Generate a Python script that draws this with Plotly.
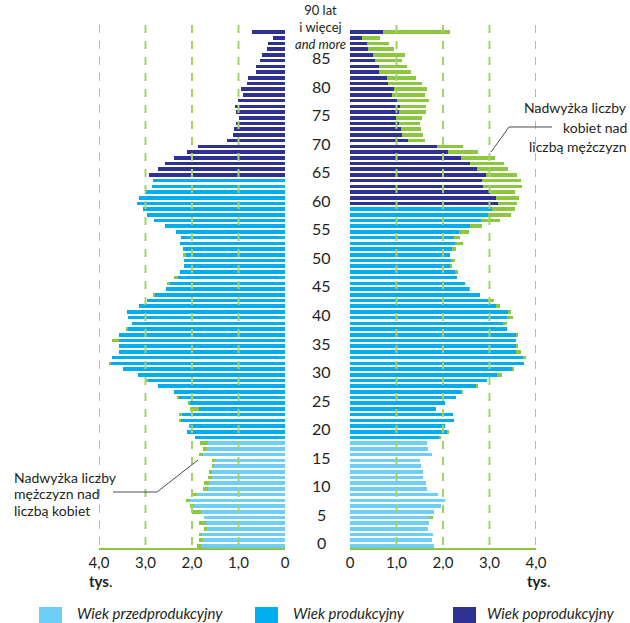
import plotly.graph_objects as go

# ---------------- data (thousands of persons) ----------------
ages = list(range(91))  # 90 = "90 lat i więcej"

men = [1.89, 1.86, 1.85, 1.74, 1.86, 1.74, 2.01, 2.04, 2.12, 1.99,
       1.76, 1.74, 1.65, 1.63, 1.56, 1.56, 1.86, 1.76, 1.82, 1.93,
       2.10, 2.06, 2.26, 2.28, 2.04, 2.09, 2.32, 2.39, 2.73, 2.97,
       3.16, 3.49, 3.79, 3.72, 3.57, 3.57, 3.72, 3.57, 3.42, 3.29,
       3.38, 3.40, 3.14, 2.97, 2.82, 2.56, 2.54, 2.39, 2.26, 2.17,
       2.17, 2.19, 2.19, 2.26, 2.24, 2.34, 2.58, 2.82, 2.97, 3.05,
       3.18, 3.14, 3.01, 2.86, 2.84, 2.93, 2.73, 2.58, 2.39, 2.11,
       1.87, 1.25, 1.12, 1.10, 1.05, 0.99, 1.05, 1.07, 1.01, 0.90,
       0.94, 0.81, 0.79, 0.62, 0.62, 0.54, 0.49, 0.39, 0.36, 0.26,
       0.71]

women = [1.81, 1.77, 1.79, 1.68, 1.70, 1.78, 1.81, 1.96, 2.05, 1.90,
         1.66, 1.64, 1.57, 1.57, 1.53, 1.51, 1.76, 1.68, 1.66, 1.94,
         2.11, 2.05, 2.24, 2.22, 1.85, 2.05, 2.28, 2.43, 2.74, 2.95,
         3.27, 3.51, 3.75, 3.79, 3.68, 3.60, 3.57, 3.62, 3.38, 3.38,
         3.51, 3.47, 3.23, 3.10, 2.80, 2.58, 2.48, 2.30, 2.33, 2.18,
         2.26, 2.15, 2.28, 2.43, 2.37, 2.56, 2.84, 3.23, 3.47, 3.55,
         3.59, 3.64, 3.55, 3.70, 3.68, 3.60, 3.40, 3.32, 3.12, 2.76,
         2.43, 1.62, 1.58, 1.53, 1.51, 1.55, 1.64, 1.64, 1.70, 1.62,
         1.65, 1.55, 1.42, 1.31, 1.23, 1.11, 1.18, 0.95, 0.84, 0.65,
         2.15]

age_labels = list(range(0, 90, 5))
top_age_label = "90 lat<br>i więcej<br><i>and more</i>"
tick_vals = [0, 1, 2, 3, 4]
tick_text = ["0", "1,0", "2,0", "3,0", "4,0"]
pre_last_age = 18        # last pre-productive age shown
men_post_first = 65      # first post-productive age, men
women_post_first = 60    # first post-productive age, women
legend_labels = ["Wiek przedprodukcyjny", "Wiek produkcyjny", "Wiek poprodukcyjny"]

# ---------------- style ----------------
C_PRE = "#6dcff6"
C_PROD = "#00aeef"
C_POST = "#2e3192"
C_EXC = "#8dc63f"
C_GRID = "#a2d165"
C_TXT = "#231f20"
FONT = "Lato, Roboto, sans-serif"

PL, PR, PT, PB = 99, 536, 25, 548
W, H = 630, 623


def px(x):
    return (x - PL) / (PR - PL)


def py(y):
    return (PB - y) / (PB - PT)


def group_color(age, post_first):
    if age <= pre_last_age:
        return C_PRE
    if age >= post_first:
        return C_POST
    return C_PROD


common = [min(m, w) for m, w in zip(men, women)]
men_exc = [max(m - w, 0) for m, w in zip(men, women)]
women_exc = [max(w - m, 0) for m, w in zip(men, women)]
men_cols = [group_color(a, men_post_first) for a in ages]
women_cols = [group_color(a, women_post_first) for a in ages]

BW = 0.63
fig = go.Figure()
fig.add_trace(go.Bar(y=ages, x=common, orientation="h", width=BW,
                     marker=dict(color=men_cols, line=dict(width=0)),
                     xaxis="x", yaxis="y", showlegend=False, hoverinfo="skip"))
fig.add_trace(go.Bar(y=ages, x=men_exc, base=common, orientation="h", width=BW,
                     marker=dict(color=C_EXC, line=dict(width=0)),
                     xaxis="x", yaxis="y", showlegend=False, hoverinfo="skip"))
fig.add_trace(go.Bar(y=ages, x=common, orientation="h", width=BW,
                     marker=dict(color=women_cols, line=dict(width=0)),
                     xaxis="x2", yaxis="y", showlegend=False, hoverinfo="skip"))
fig.add_trace(go.Bar(y=ages, x=women_exc, base=common, orientation="h", width=BW,
                     marker=dict(color=C_EXC, line=dict(width=0)),
                     xaxis="x2", yaxis="y", showlegend=False, hoverinfo="skip"))

axis_common = dict(tickvals=tick_vals, ticktext=tick_text, showgrid=False,
                   zeroline=False, showline=True, linecolor=C_EXC, linewidth=2,
                   ticks="", tickfont=dict(family=FONT, size=15, color=C_TXT),
                   anchor="y", fixedrange=True)
left_end = (285 - PL) / (PR - PL)
right_start = (350 - PL) / (PR - PL)

shapes = []
for ax in ("x", "x2"):
    for v in tick_vals[1:]:
        shapes.append(dict(type="line", xref=ax, yref="paper", x0=v, x1=v, y0=1, y1=0,
                           line=dict(color=C_GRID, width=2, dash="8px,8px"), layer="above"))

# callout lines
LC = "#4d4d4f"
shapes.append(dict(type="line", xref="paper", yref="paper", x0=px(552), y0=py(127),
                   x1=px(509), y1=py(127), line=dict(color=LC, width=1)))
shapes.append(dict(type="line", xref="paper", yref="paper", x0=px(509), y0=py(127),
                   x1=px(491), y1=py(152), line=dict(color=LC, width=1)))
shapes.append(dict(type="line", xref="paper", yref="paper", x0=px(113), y0=py(492),
                   x1=px(157), y1=py(492), line=dict(color=LC, width=1)))
shapes.append(dict(type="line", xref="paper", yref="paper", x0=px(157), y0=py(492),
                   x1=px(198), y1=py(460), line=dict(color=LC, width=1)))

# legend swatches
sw_x = [39, 255, 453]
sw_cols = [C_PRE, C_PROD, C_POST]
for xs, c in zip(sw_x, sw_cols):
    shapes.append(dict(type="rect", xref="paper", yref="paper", x0=px(xs), x1=px(xs + 23),
                       y0=py(607), y1=py(626), line=dict(width=0), fillcolor=c))

ann = []
for a in age_labels:
    ann.append(dict(text=str(a), xref="paper", yref="y", x=px(321), y=a + 0.55,
                    showarrow=False, xanchor="center", yanchor="middle",
                    font=dict(family=FONT, size=16, color=C_TXT)))
ann.append(dict(text=top_age_label, xref="paper", yref="paper", x=px(320), y=py(27),
                showarrow=False, xanchor="center", yanchor="middle", align="center",
                font=dict(family=FONT, size=13, color=C_TXT)))

for txt, yy in (("Nadwyżka liczby", 107), ("kobiet nad", 127), ("liczbą mężczyzn", 146)):
    ann.append(dict(text=txt, xref="paper", yref="paper", x=px(629), y=py(yy),
                    showarrow=False, xanchor="right", yanchor="middle",
                    font=dict(family=FONT, size=14, color=C_TXT)))
for txt, yy in (("Nadwyżka liczby", 477), ("mężczyzn nad", 493), ("liczbą kobiet", 510)):
    ann.append(dict(text=txt, xref="paper", yref="paper", x=px(12), y=py(yy),
                    showarrow=False, xanchor="left", yanchor="middle",
                    font=dict(family=FONT, size=14, color=C_TXT)))

for xx in (100, 538):
    ann.append(dict(text="<b>tys</b>.", xref="paper", yref="paper", x=px(xx), y=py(581),
                    showarrow=False, xanchor="center", yanchor="middle",
                    font=dict(family=FONT, size=15, color=C_TXT)))

for xs, lab in zip((75, 291, 485), legend_labels):
    ann.append(dict(text="<i>" + lab + "</i>", xref="paper", yref="paper", x=px(xs), y=py(613),
                    showarrow=False, xanchor="left", yanchor="middle",
                    font=dict(family=FONT, size=15, color=C_TXT)))

fig.update_layout(
    width=W, height=H,
    margin=dict(l=PL, r=W - PR, t=PT, b=H - PB, pad=0),
    paper_bgcolor="white", plot_bgcolor="white",
    barmode="overlay", bargap=0,
    xaxis=dict(domain=[0, left_end], range=[4, 0], **axis_common),
    xaxis2=dict(domain=[right_start, 1], range=[0, 4], **axis_common),
    yaxis=dict(range=[-0.35, 91.25], visible=False, fixedrange=True),
    shapes=shapes, annotations=ann,
    font=dict(family=FONT, color=C_TXT),
)

fig.write_html("out.html", config={"displayModeBar": False},
               post_script="document.body.style.margin='0';document.body.style.overflow='hidden';")
